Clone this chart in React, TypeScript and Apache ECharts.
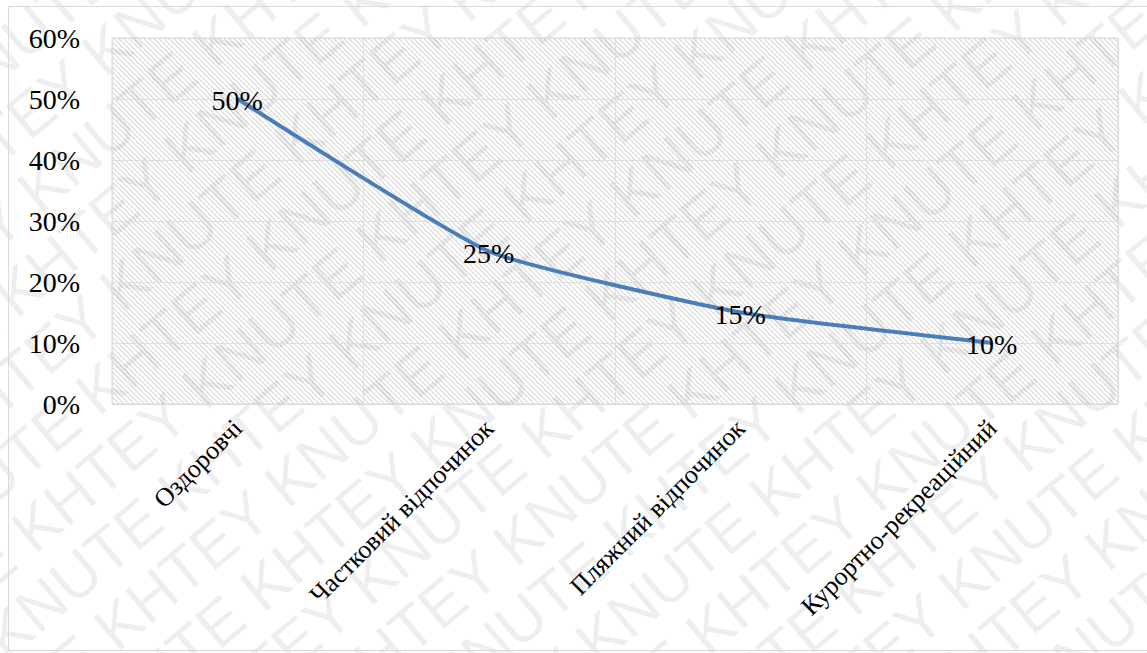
import React, { useEffect, useRef } from "react";
import * as echarts from "echarts";

const categories = ["Оздоровчі", "Частковий відпочинок", "Пляжний відпочинок", "Курортно-рекреаційний"];
const shares = [50, 25, 15, 10];
const watermarkWords = ["KNUTE", "KHTEY"];

function makeHatch() {
  const n = 5;
  const c = document.createElement("canvas");
  c.width = n;
  c.height = n;
  const ctx = c.getContext("2d")!;
  ctx.fillStyle = "#ffffff";
  ctx.fillRect(0, 0, n, n);
  for (let i = 0; i < n; i++) {
    ctx.fillStyle = "#d9d9d9";
    ctx.fillRect(i, i, 1, 1);
    ctx.fillStyle = "#ededed";
    ctx.fillRect((i + 1) % n, i, 1, 1);
  }
  return c;
}

function buildWatermark() {
  const rows: any[] = [];
  for (let r = -14; r <= 14; r++) {
    const parts: string[] = [];
    for (let k = 0; k < 14; k++) parts.push(watermarkWords[(k + r + 100) % 2]);
    rows.push({
      type: "text",
      x: -1100 + ((r + 100) % 2) * 90,
      y: r * 64,
      silent: true,
      style: {
        text: parts.join(" "),
        font: '62px "Liberation Sans", Arial, sans-serif',
        fill: "rgba(0,0,0,0.065)",
        textVerticalAlign: "middle",
      },
    });
  }
  return {
    type: "group",
    x: 573,
    y: 326,
    rotation: (40 * Math.PI) / 180,
    silent: true,
    z: 100,
    children: rows,
  };
}

export default function App() {
  const ref = useRef<HTMLDivElement>(null);
  useEffect(() => {
    if (!ref.current) return;
    const chart = echarts.init(ref.current, null, { renderer: "svg" });
    const hatch = makeHatch();
    const serif = "Liberation Serif";
    chart.setOption({
      animation: false,
      backgroundColor: "#ffffff",
      grid: {
        left: 112,
        right: 29,
        top: 38,
        bottom: 249,
        show: true,
        borderColor: "#d9d9d9",
        borderWidth: 1,
        backgroundColor: { image: hatch, repeat: "repeat", imageWidth: 5, imageHeight: 5 } as any,
      },
      xAxis: {
        type: "category",
        data: categories,
        boundaryGap: true,
        axisLine: { show: true, lineStyle: { color: "#d9d9d9" } },
        axisTick: { show: false },
        splitLine: { show: true, lineStyle: { color: "#dedede" } },
        axisLabel: {
          interval: 0,
          rotate: 45,
          margin: 20,
          color: "#000",
          fontFamily: serif,
          fontSize: 26,
        },
      },
      yAxis: {
        type: "value",
        min: 0,
        max: 60,
        interval: 10,
        axisLine: { show: false },
        axisTick: { show: false },
        splitLine: { show: true, lineStyle: { color: "#dedede" } },
        axisLabel: {
          formatter: "{value}%",
          margin: 32,
          color: "#000",
          fontFamily: serif,
          fontSize: 28,
        },
      },
      series: [
        {
          type: "line",
          data: shares,
          smooth: 0.15,
          showSymbol: true,
          symbol: "circle",
          symbolSize: 1,
          itemStyle: { color: "#4a7ebb", opacity: 0 },
          lineStyle: { color: "#4a7ebb", width: 4 },
          label: {
            show: true,
            position: [0, 0],
            align: "center",
            verticalAlign: "middle",
            offset: [0, 2],
            formatter: "{c}%",
            color: "#000",
            fontFamily: serif,
            fontSize: 28,
            opacity: 1,
          },
          z: 5,
        },
      ],
      graphic: [
        {
          type: "rect",
          shape: { x: 8.5, y: 6.5, width: 1150, height: 644 },
          style: { fill: "none", stroke: "#d9d9d9", lineWidth: 1 },
          silent: true,
          z: 101,
        },
        buildWatermark(),
      ],
    });
    return () => chart.dispose();
  }, []);
  return <div ref={ref} style={{ position: "absolute", left: 0, top: 0, width: 1147, height: 653 }} />;
}
